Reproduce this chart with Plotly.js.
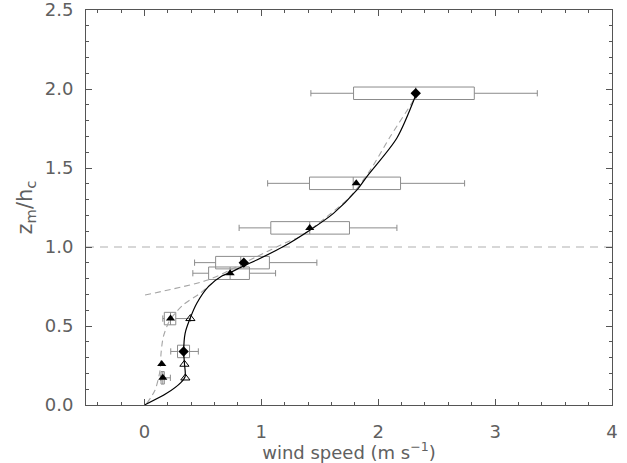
<!DOCTYPE html>
<html><head><meta charset="utf-8">
<script src="https://cdn.plot.ly/plotly-3.0.1.min.js"></script>
<style>html,body{margin:0;padding:0;background:#fff}#chart{width:627px;height:463px}</style>
</head><body><div id="chart"></div>
<script>
// Box statistics (horizontal boxes)
const boxY      = [1.973, 1.403, 1.121, 0.901, 0.834, 0.547, 0.339, 0.172];
const boxLow    = [1.424, 1.054, 0.810, 0.429, 0.414, 0.157, 0.225, 0.140];
const boxQ1     = [1.789, 1.412, 1.081, 0.609, 0.549, 0.170, 0.283, 0.142];
const boxMed    = [2.321, 1.786, 1.414, 0.824, 0.733, 0.223, 0.335, 0.157];
const boxQ3     = [2.822, 2.191, 1.754, 1.069, 0.898, 0.268, 0.386, 0.170];
const boxHigh   = [3.361, 2.739, 2.160, 1.475, 1.122, 0.395, 0.461, 0.222];

// Point markers
const filledTriX = [1.812, 1.414, 0.733, 0.223, 0.148, 0.157];
const filledTriY = [1.403, 1.121, 0.834, 0.547, 0.259, 0.172];
const openTriX   = [0.393, 0.342, 0.350];
const openTriY   = [0.547, 0.258, 0.171];
const diamondX   = [2.321, 0.850, 0.335];
const diamondY   = [1.973, 0.901, 0.339];

// Model profile (solid)
const solidX = [0, 0.19, 0.311, 0.348, 0.342, 0.336, 0.348, 0.39, 0.448, 0.547, 0.662, 0.733, 0.847, 0.961, 1.189, 1.418, 1.617, 1.818, 1.903, 2.16, 2.325];
const solidY = [0, 0.074, 0.142, 0.18, 0.264, 0.34, 0.454, 0.547, 0.644, 0.749, 0.816, 0.838, 0.88, 0.918, 1.003, 1.108, 1.213, 1.361, 1.446, 1.69, 1.968];

// Dashed profiles
const dashAX = [0.02, 0.091, 0.134, 0.142, 0.162, 0.219, 0.333, 0.476, 0.576];
const dashAY = [0.01, 0.095, 0.222, 0.327, 0.433, 0.538, 0.635, 0.707, 0.77];
const dashBX = [0.005, 0.533, 0.75, 0.961, 1.218, 1.332, 1.561, 1.76, 1.932, 2.103, 2.302, 2.325];
const dashBY = [0.696, 0.789, 0.86, 0.939, 1.03, 1.066, 1.192, 1.319, 1.487, 1.699, 1.93, 1.968];

// Reference line z/h = 1
const refLineX = [-0.5, 4];
const refLineY = [1.0, 1.0];

// Axes
const xRange = [-0.5, 4];
const yRange = [0, 2.5];
const xTickVals = [0, 1, 2, 3, 4];
const yTickVals = [0, 0.5, 1.0, 1.5, 2.0, 2.5];
const yTickText = ['0.0', '0.5', '1.0', '1.5', '2.0', '2.5'];

const traces = [
  {type:'scatter', mode:'lines', x:refLineX, y:refLineY, line:{color:'#b0b0b0', width:1.2, dash:'8px,6px'}, hoverinfo:'skip'},
  {type:'box', orientation:'h', y:boxY, q1:boxQ1, median:boxMed, q3:boxQ3, lowerfence:boxLow, upperfence:boxHigh,
   width:0.079, whiskerwidth:0.5, fillcolor:'rgba(0,0,0,0)', line:{color:'#8c8c8c', width:1}, boxpoints:false},
  {type:'scatter', mode:'lines', x:dashAX, y:dashAY, line:{color:'#a5a5a5', width:1.1, dash:'6px,4px', shape:'spline', smoothing:0.8}},
  {type:'scatter', mode:'lines', x:dashBX, y:dashBY, line:{color:'#a5a5a5', width:1.1, dash:'6px,4px', shape:'spline', smoothing:0.8}},
  {type:'scatter', mode:'lines', x:solidX, y:solidY, line:{color:'#000000', width:1.2, shape:'spline', smoothing:0.8}},
  {type:'scatter', mode:'markers', x:filledTriX, y:filledTriY, marker:{symbol:'triangle-up', size:8, color:'#000'}},
  {type:'scatter', mode:'markers', x:openTriX, y:openTriY, marker:{symbol:'triangle-up-open', size:8, color:'#000', line:{width:1}}},
  {type:'scatter', mode:'markers', x:diamondX, y:diamondY, marker:{symbol:'diamond', size:8, color:'#000'}}
];

const tickFont = {family:'DejaVu Sans, sans-serif', size:18, color:'#606060'};
const layout = {
  width:627, height:463,
  margin:{l:86, r:15, t:10, b:58},
  paper_bgcolor:'#fff', plot_bgcolor:'#fff',
  showlegend:false, boxmode:'overlay',
  xaxis:{range:xRange, tickmode:'array', tickvals:xTickVals, ticks:'inside', ticklen:6, tickcolor:'#555', showline:true, linecolor:'#555', linewidth:1,
    mirror:'allticks', showgrid:false, zeroline:false, tickfont:tickFont, ticklabelstandoff:10, ticklabeloverflow:'allow',
    minor:{dtick:0.2, tick0:0, ticks:'inside', ticklen:3, tickcolor:'#555'},
    title:{text:'wind speed (m s<sup>−1</sup>)', font:{family:'DejaVu Sans, sans-serif', size:18, color:'#606060'}, standoff:3}},
  yaxis:{range:yRange, tickmode:'array', tickvals:yTickVals, ticktext:yTickText, ticks:'inside', ticklen:6, tickcolor:'#555', showline:true, linecolor:'#555', linewidth:1,
    mirror:'allticks', showgrid:false, zeroline:false, tickfont:tickFont, ticklabelstandoff:8, ticklabeloverflow:'allow',
    minor:{dtick:0.1, tick0:0, ticks:'inside', ticklen:3, tickcolor:'#555'},
    title:{text:'z<sub>m</sub>/h<sub>c</sub>', font:{family:'DejaVu Sans, sans-serif', size:21, color:'#606060'}, standoff:6}}
};
Plotly.newPlot('chart', traces, layout, {staticPlot:true, displayModeBar:false});
</script></body></html>
